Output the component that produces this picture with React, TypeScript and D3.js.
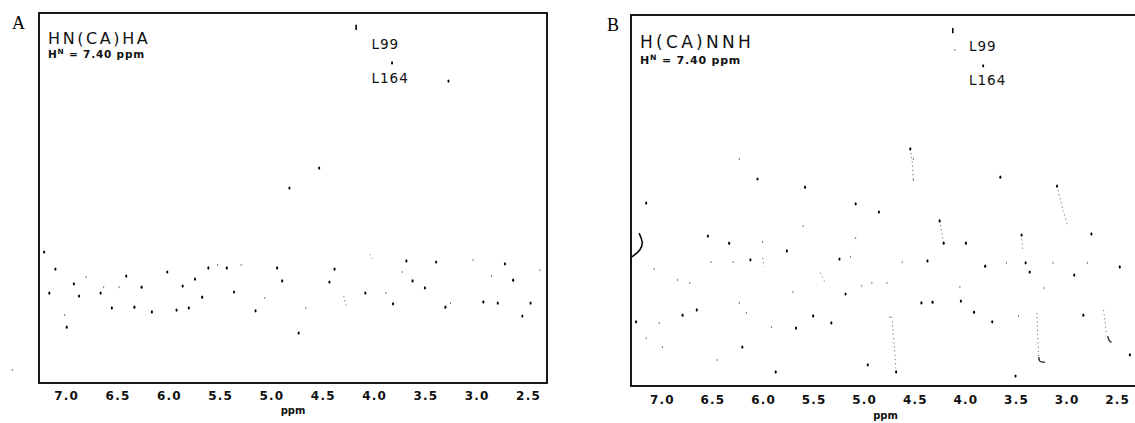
import React from "react";
import * as d3 from "d3";

// ---- data (chemical shift in ppm, vertical position as % of frame height from top) ----
const tickValues = [7.0, 6.5, 6.0, 5.5, 5.0, 4.5, 4.0, 3.5, 3.0, 2.5];

const peaksA: [number, number][] = [
  [4.83, 47.3], [4.54, 41.9], [3.83, 13.5], [3.28, 18.4], [7.22, 64.6], [7.11, 69.2], [7.17, 75.7],
  [6.93, 73.2], [6.88, 76.5], [7.0, 84.9], [6.67, 75.7], [6.56, 79.7], [6.42, 71.1], [6.34, 79.5],
  [6.27, 74.1], [6.17, 80.8], [6.02, 70.0], [5.93, 80.3], [5.87, 73.8], [5.81, 79.7], [5.75, 71.9],
  [5.68, 76.8], [5.62, 68.9], [5.44, 68.9], [5.37, 75.4], [5.16, 80.5], [4.95, 68.9], [4.9, 72.4],
  [4.74, 86.5], [4.44, 72.7], [4.39, 69.2], [4.09, 75.7], [3.82, 78.6], [3.69, 67.0], [3.63, 72.4],
  [3.51, 74.3], [3.4, 67.3], [3.31, 79.5], [2.94, 78.1], [2.8, 78.4], [2.73, 67.8], [2.65, 72.2],
  [2.56, 81.9], [2.48, 78.4],
];
const faintA: [number, number][] = [
  [6.81, 71.4], [6.64, 74.1], [6.49, 74.1], [5.53, 68.1], [5.3, 68.1], [5.07, 77.0], [4.67, 79.7],
  [3.89, 75.7], [3.73, 70.0], [3.26, 78.4], [3.04, 66.8], [2.86, 71.1], [2.39, 69.5], [7.02, 81.6],
  [7.53, 96.5],
];
const markA: [number, number][] = [[4.18, 3.2], [4.18, 4.6]];
const streaksA: [number, number][][] = [
  [[4.3, 76.5], [4.28, 79.0]],
  [[4.05, 65.2], [4.01, 66.6]],
];
const hooksA: [number, number][][] = [];

const peaksB: [number, number][] = [
  [4.55, 36.1], [3.83, 13.7], [3.66, 43.7], [6.06, 44.2], [5.59, 46.4], [3.1, 46.1], [7.16, 50.7],
  [5.09, 50.9], [4.86, 53.1], [4.26, 55.5], [6.55, 59.6], [6.34, 61.5], [3.45, 59.3], [2.76, 59.0],
  [4.0, 61.5], [4.22, 61.5], [5.77, 63.6], [6.13, 66.0], [5.25, 65.8], [4.38, 66.3], [3.81, 67.7],
  [3.41, 66.8], [3.37, 69.3], [2.48, 67.9], [2.93, 70.1], [5.19, 75.2], [4.05, 77.1], [4.44, 77.6],
  [4.33, 77.4], [6.66, 79.5], [6.8, 80.9], [3.92, 80.1], [5.51, 81.1], [2.84, 80.9], [7.26, 82.7],
  [3.74, 82.7], [5.33, 83.0], [5.68, 84.4], [6.21, 89.5], [5.88, 96.2], [4.97, 94.3], [4.69, 96.2],
  [3.51, 97.3], [2.38, 91.6],
];
const faintB: [number, number][] = [
  [4.11, 9.4], [4.52, 38.8], [4.52, 44.5], [5.61, 56.9], [5.09, 60.1], [7.08, 68.5], [6.85, 71.4],
  [6.73, 72.2], [4.06, 73.3], [7.03, 83.0], [7.16, 87.1], [7.0, 89.5], [6.46, 93.0], [6.52, 66.6],
  [6.3, 66.6], [4.63, 66.6], [3.14, 66.8], [2.8, 66.8], [4.93, 72.2], [4.78, 72.2], [5.03, 73.0],
  [5.71, 74.7], [6.24, 77.6], [6.17, 80.3], [5.92, 84.1], [4.75, 81.4], [3.48, 81.1], [3.23, 73.6],
  [3.6, 66.8], [6.24, 38.8], [6.01, 61.2], [5.14, 65.2],
];
const markB: [number, number][] = [[4.13, 3.5], [4.13, 4.9]];
const streaksB: [number, number][][] = [
  [[4.55, 36.1], [4.53, 40.0], [4.52, 44.5]],
  [[3.1, 46.1], [3.04, 52.6], [2.99, 57.1]],
  [[4.26, 55.5], [4.24, 58.6], [4.22, 61.5]],
  [[4.73, 81.4], [4.71, 89.0], [4.69, 96.2]],
  [[3.3, 80.3], [3.28, 93.0]],
  [[2.64, 79.5], [2.61, 86.3]],
  [[5.44, 69.5], [5.39, 72.2]],
  [[6.01, 65.5], [5.99, 67.8]],
  [[3.45, 59.3], [3.44, 63.5]],
];
const hooksB: [number, number][][] = [
  [[3.28, 92.2], [3.27, 93.3], [3.22, 93.6]],
  [[2.6, 86.6], [2.58, 87.9], [2.56, 88.2]],
];
const braceB: [number, number][] = [[7.23, 58.8], [7.19, 61.2], [7.21, 63.3], [7.3, 65.2]];

const panels = [
  {
    letter: "A", title: "HN(CA)HA", peaks: peaksA, faint: faintA, mark: markA, streaks: streaksA, hooks: hooksA,
    brace: null as null | [number, number][],
    domain: [7.27, 2.32], range: [39, 547], yRange: [13, 383], titleSize: 16, titleSpacing: 2.6,
    labelPpm: 4.03, letterX: 12, letterY: 29, titleY: 44, hnY: 58, hnSize: 10.5, tickY: 400, ppmY: 414,
  },
  {
    letter: "B", title: "H(CA)NNH", peaks: peaksB, faint: faintB, mark: markB, streaks: streaksB, hooks: hooksB,
    brace: braceB,
    domain: [7.31, 2.28], range: [631, 1140], yRange: [15, 386], titleSize: 17, titleSpacing: 3.3,
    labelPpm: 3.97, letterX: 607, letterY: 31, titleY: 48, hnY: 64, hnSize: 11, tickY: 404, ppmY: 419,
  },
];

const assignLabels = [
  { name: "L99", row: 9.8 },
  { name: "L164", row: 18.9 },
];

const FONT = "'DejaVu Sans', sans-serif";

function Panel({ p }: { p: (typeof panels)[number] }) {
  const x = d3.scaleLinear().domain(p.domain).range(p.range);
  const y = d3.scaleLinear().domain([0, 100]).range(p.yRange);
  const line = d3.line<[number, number]>().x((d) => x(d[0])).y((d) => y(d[1])).curve(d3.curveCatmullRom);
  const basis = d3.line<[number, number]>().x((d) => x(d[0])).y((d) => y(d[1])).curve(d3.curveBasis);
  const fmt = d3.format(".1f");
  const [x0, x1] = p.range;
  const [y0, y1] = p.yRange;
  return (
    <g>
      <text x={p.letterX} y={p.letterY} fontFamily="'Liberation Serif', 'Times New Roman', serif" fontSize={18}>
        {p.letter}
      </text>
      <rect x={x0} y={y0} width={x1 - x0} height={y1 - y0} fill="none" stroke="#000" strokeWidth={1.8} />
      <text x={x0 + 9} y={p.titleY} fontFamily={FONT} fontSize={p.titleSize} letterSpacing={p.titleSpacing} fill="#111">
        {p.title}
      </text>
      <text x={x0 + 9} y={p.hnY} fontFamily={FONT} fontSize={p.hnSize} fontWeight="bold" letterSpacing={0.8} fill="#111">
        H<tspan fontSize={p.hnSize * 0.7} dy={-4}>N</tspan>
        <tspan dy={4}> = 7.40 ppm</tspan>
      </text>
      {assignLabels.map((l) => (
        <text key={l.name} x={x(p.labelPpm)} y={y(l.row)} fontFamily={FONT} fontSize={13.5} letterSpacing={1} fill="#111">
          {l.name}
        </text>
      ))}
      <path d={line(p.mark) || ""} fill="none" stroke="#000" strokeWidth={1.6} />
      {p.streaks.map((s, i) => (
        <path key={"s" + i} d={line(s) || ""} fill="none" stroke="#777" strokeWidth={1} strokeDasharray="1.2 3" />
      ))}
      {p.hooks.map((s, i) => (
        <path key={"h" + i} d={line(s) || ""} fill="none" stroke="#222" strokeWidth={1.3} />
      ))}
      {p.brace && <path d={basis(p.brace) || ""} fill="none" stroke="#000" strokeWidth={1.5} />}
      {p.faint.map((d, i) => (
        <rect key={"f" + i} x={x(d[0]) - 0.5} y={y(d[1]) - 1} width={1} height={2} fill="#777" />
      ))}
      {p.peaks.map((d, i) => (
        <ellipse key={"p" + i} cx={x(d[0])} cy={y(d[1])} rx={1.05} ry={1.6} fill="#000" />
      ))}
      {tickValues.map((t) => (
        <text key={t} x={x(t)} y={p.tickY} textAnchor="middle" fontFamily={FONT} fontSize={12} fontWeight="bold" letterSpacing={1.2} fill="#111">
          {fmt(t)}
        </text>
      ))}
      <text x={(x0 + x1) / 2} y={p.ppmY} textAnchor="middle" fontFamily={FONT} fontSize={10} fontWeight="bold" fill="#111">
        ppm
      </text>
    </g>
  );
}

export default function App() {
  return (
    <svg width={1135} height={423} style={{ position: "absolute", left: 0, top: 0, background: "#fff" }}>
      <rect x={0} y={0} width={1135} height={423} fill="#fff" />
      {panels.map((p) => (
        <Panel key={p.letter} p={p} />
      ))}
    </svg>
  );
}
